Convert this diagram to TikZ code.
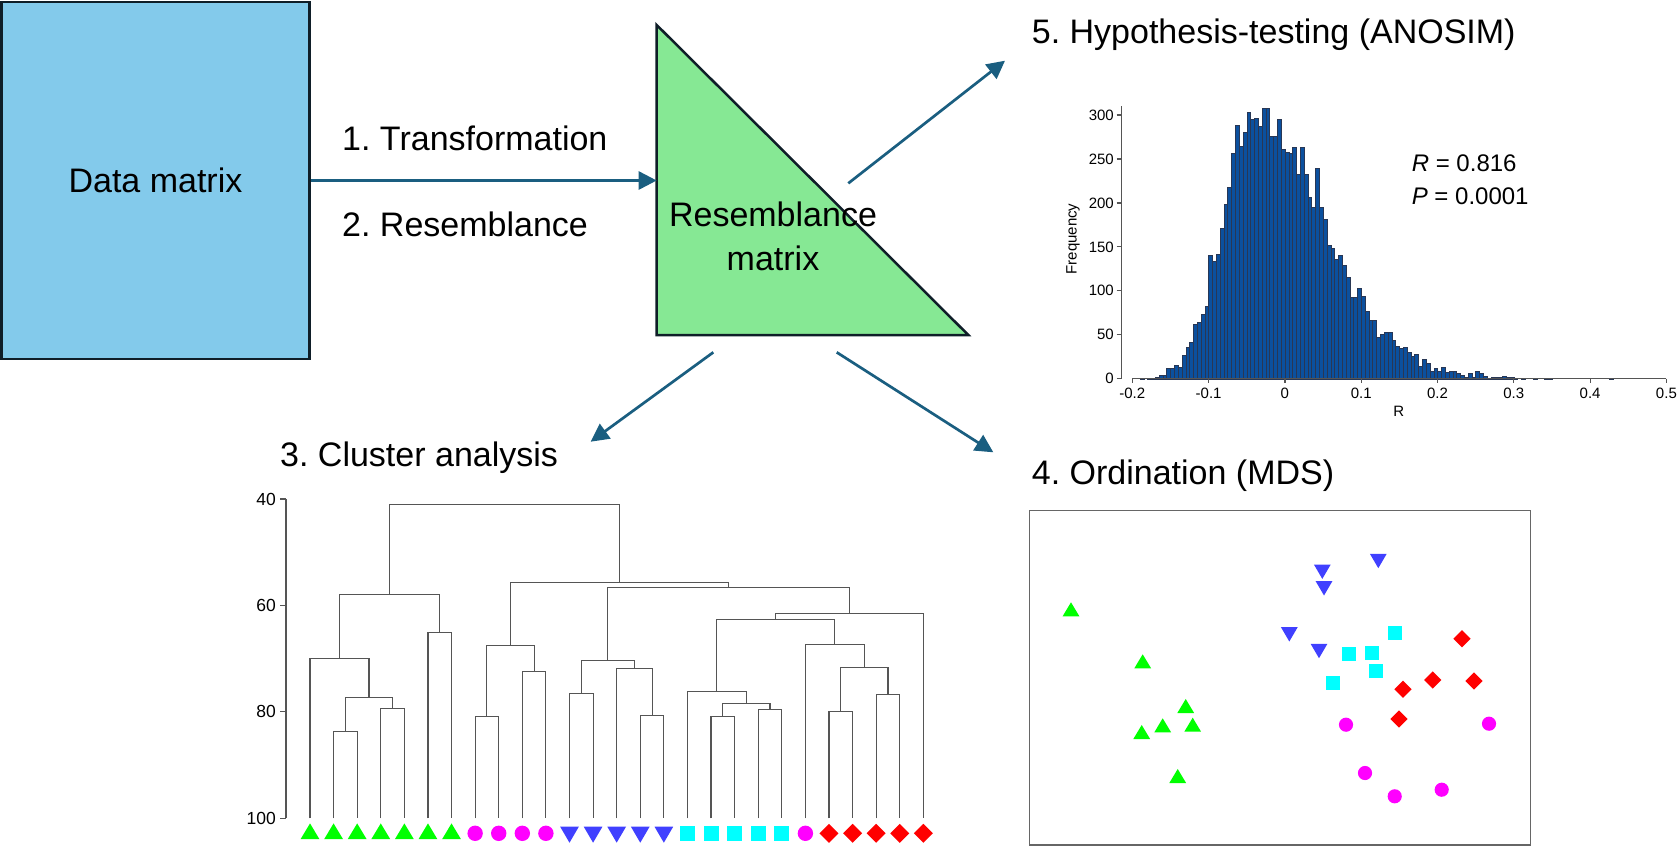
\documentclass[tikz,border=0pt]{standalone}
\usepackage{fontspec}
\setmainfont{Liberation Sans}
\usetikzlibrary{arrows.meta,calc}
\definecolor{arrowc}{RGB}{26,94,128}
\definecolor{datafill}{RGB}{131,202,235}
\definecolor{trifill}{RGB}{134,232,148}
\definecolor{edgec}{RGB}{15,30,40}
\definecolor{barfill}{RGB}{11,80,158}
\definecolor{baredge}{RGB}{40,55,85}
\definecolor{axc}{RGB}{85,85,85}
\definecolor{cgreen}{RGB}{0,255,0}
\definecolor{cblue}{RGB}{64,64,255}
\definecolor{cmag}{RGB}{255,0,255}
\definecolor{ccyan}{RGB}{0,255,255}
\definecolor{cred}{RGB}{255,0,0}
\newcommand\dmerge[4]{%
  \coordinate (hh) at (0,{dy(#3)});
  \draw[dend] (#1) -- (#1 |- hh) -- (#2 |- hh) -- (#2);
  \coordinate (#4) at ($(#1 |- hh)!0.5!(#2 |- hh)$);
}
\frenchspacing
\begin{document}
\frenchspacing
\begin{tikzpicture}[x=1pt,y=-1pt,
  declare function={lx(\i)=310+23.59*\i; dy(\v)=499+(\v-40)*5.322;},
  big/.style={font=\fontsize{34}{43.3}\selectfont, inner sep=0pt},
  axlab/.style={font=\fontsize{15}{18}\selectfont, inner sep=0pt},
  dlab/.style={font=\fontsize{17.5}{20}\selectfont, inner sep=0pt},
  statlab/.style={font=\fontsize{24}{29}\selectfont, inner sep=0pt, anchor=base west},
  datab/.style={draw=edgec, line width=2.5pt, fill=datafill, inner sep=0pt,
    font=\fontsize{34}{41}\selectfont},
  trib/.style={draw=edgec, line width=2.5pt, fill=trifill, line join=miter},
  flow/.style={draw=arrowc, line width=2.7pt, -{Triangle[length=18pt,width=18pt]}},
  dend/.style={draw=axc, line width=1.1pt},
  axline/.style={draw=axc, line width=1.2pt},
  bar/.style={fill=barfill, draw=baredge, line width=0.4pt},
  mdsbox/.style={draw=axc!90, line width=1.5pt},
  mkup/.pic={\fill[cgreen] (-9.35,7.8) -- (9.35,7.8) -- (0,-7.8) -- cycle;},
  mkdown/.pic={\fill[cblue] (-9.35,-8) -- (9.35,-8) -- (0,8) -- cycle;},
  mkcirc/.pic={\fill[cmag] (0,0) circle (7.7);},
  mksq/.pic={\fill[ccyan] (-7.5,-7.5) rectangle (7.5,7.5);},
  mkdia/.pic={\fill[cred] (0,-9.5) -- (9.5,0) -- (0,9.5) -- (-9.5,0) -- cycle;}
]
\useasboundingbox (0,0) rectangle (1680,847);

% ---------- data matrix and resemblance matrix ----------
\node[datab, minimum width=308pt, minimum height=357pt] (data) at (155.5,180.5) {Data matrix};
\coordinate (triTop) at (656.7,25);
\coordinate (triBL) at (656.7,335);
\coordinate (triBR) at (968.3,335);
\draw[trib] (triTop) -- (triBL) -- (triBR) -- cycle;
\coordinate (triL) at (656.7,180.5);
\node[big, anchor=base, align=center] (resm) at (773,270) {Resemblance\\matrix};

\draw[flow] (data.east) -- (triL);
\node[big, anchor=base west] (t1) at (342,150.7) {1. Transformation};
\node[big, anchor=base west] (t2) at (342,236) {2. Resemblance};

% arrows out
\coordinate (a5s) at (848.3,183.3); \coordinate (a5e) at (1005,60.7);
\coordinate (a3s) at (713.3,352.3); \coordinate (a3e) at (590.7,441.7);
\coordinate (a4s) at (836.7,352.3); \coordinate (a4e) at (993.3,452.3);
\draw[flow] (a5s) -- (a5e);
\draw[flow] (a3s) -- (a3e);
\draw[flow] (a4s) -- (a4e);

% titles
\node[big, anchor=base west] (t5) at (1031.7,43.3) {5. Hypothesis-testing (ANOSIM)};
\node[big, anchor=base west] (t3) at (280,466) {3. Cluster analysis};
\node[big, anchor=base west] (t4) at (1031.7,484.3) {4. Ordination (MDS)};

% ---------- histogram ----------
\foreach \h [count=\k from 0] in {0,0,1,0,1,1,2,4,4,12,
  12,15,13,27,36,42,62,64,73,83,
  141,134,142,171,198,218,257,288,265,280,
  303,295,296,287,308,308,276,276,295,261,
  258,256,263,233,263,233,207,195,239,195,
  181,152,148,136,141,129,115,93,93,103,
  94,77,67,67,47,51,53,53,44,37,
  35,36,30,26,28,14,22,18,9,12,
  9,13,7,9,8,6,4,2,6,2,
  8,6,3,0.5,1.5,1.5,1.5,3,2,1.5,
  1,0,1,0,0,1,0,0,1,1}{
  \ifdim \h pt>0pt
    \draw[bar] ({1132.3+3.815*\k},378.7) rectangle ++(3.815,{-0.879*\h});
  \fi
}
\draw[bar] ({1132.3+3.815*125},378.7) rectangle ++(3.815,-0.879);
\draw[axline] (1121.7,378.7) -- (1121.7,106);
\draw[axline] (1132.3,378.7) -- (1666.4,378.7);
\foreach \f in {0,50,...,300}{
  \draw[axline] (1116.7,{378.7-0.879*\f}) -- (1121.7,{378.7-0.879*\f});
  \node[axlab, anchor=east] at (1114,{378.7-0.879*\f}) {\f};
}
\foreach \r/\t in {0/-0.2,1/-0.1,2/0,3/0.1,4/0.2,5/0.3,6/0.4,7/0.5}{
  \draw[axline] ({1132.3+76.3*\r},378.7) -- ({1132.3+76.3*\r},382.7);
  \node[axlab, anchor=base] at ({1132.3+76.3*\r},398) {\t};
}
\node[axlab, rotate=90] (freq) at (1073,239) {Frequency};
\node[axlab, anchor=base] (rlab) at (1398.7,416.7) {R};
\node[statlab] (rstat) at (1411.6,171) {\textit{R} = 0.816};
\node[statlab] (pstat) at (1411.6,204) {\textit{P} = 0.0001};

% ---------- dendrogram ----------
\draw[axline] (286,499) -- (286,818.3);
\foreach \v in {40,60,80,100}{
  \draw[axline] (280,{dy(\v)}) -- (286,{dy(\v)});
  \node[dlab, anchor=east] at (276,{dy(\v)}) {\v};
}
\foreach \i in {0,...,26}{ \coordinate (L\i) at ({lx(\i)},818.3); }
\dmerge{L1}{L2}{83.7}{g12}
\dmerge{L3}{L4}{79.4}{g34}
\dmerge{g12}{g34}{77.3}{g14}
\dmerge{L0}{g14}{69.9}{g04}
\dmerge{L5}{L6}{65.0}{g56}
\dmerge{g04}{g56}{57.9}{gG}
\dmerge{L7}{L8}{80.8}{m78}
\dmerge{L9}{L10}{72.4}{m910}
\dmerge{m78}{m910}{67.5}{mM}
\dmerge{L11}{L12}{76.6}{b1112}
\dmerge{L14}{L15}{80.6}{b1415}
\dmerge{L13}{b1415}{71.9}{b1315}
\dmerge{b1112}{b1315}{70.4}{bB}
\dmerge{L17}{L18}{80.8}{c1718}
\dmerge{L19}{L20}{79.5}{c1920}
\dmerge{c1718}{c1920}{78.4}{cF}
\dmerge{L16}{cF}{76.1}{cE}
\dmerge{L22}{L23}{80.0}{r2223}
\dmerge{L24}{L25}{76.8}{rI}
\dmerge{r2223}{rI}{71.7}{rH}
\dmerge{L21}{rH}{67.3}{rG}
\dmerge{cE}{rG}{62.7}{nD}
\dmerge{nD}{L26}{61.5}{nC}
\dmerge{bB}{nC}{56.65}{nB}
\dmerge{mM}{nB}{55.7}{nA}
\dmerge{gG}{nA}{41.0}{ntop}
\foreach \i in {0,...,6}{ \pic at ({lx(\i)},831.2) {mkup}; }
\foreach \i in {7,...,10}{ \pic at ({lx(\i)},833.3) {mkcirc}; }
\foreach \i in {11,...,15}{ \pic at ({lx(\i)},834.7) {mkdown}; }
\foreach \i in {16,...,20}{ \pic at ({lx(\i)},833.3) {mksq}; }
\pic at ({lx(21)},833.3) {mkcirc};
\foreach \i in {22,...,26}{ \pic at ({lx(\i)},833.3) {mkdia}; }

% ---------- MDS ----------
\draw[mdsbox] (1029.3,510.7) rectangle (1530.7,845);
\foreach \p in {(1071,609.3),(1142.7,661.3),(1185.7,706),(1162.7,725.3),(1192.7,724.7),(1141.7,732),(1177.7,776)}
  { \pic[scale=0.9] at \p {mkup}; }
\foreach \p in {(1322.3,571.7),(1378.3,561),(1324,588.3),(1289.3,634.3),(1319,651)}
  { \pic[scale=0.9] at \p {mkdown}; }
\foreach \p in {(1394.7,633.3),(1349,654),(1372,653.3),(1376,671.3),(1333.3,683)}
  { \pic[scale=0.93] at \p {mksq}; }
\foreach \p in {(1462,638.7),(1432.7,680),(1474,681),(1403,689.3),(1399,719)}
  { \pic[scale=0.91] at \p {mkdia}; }
\foreach \p in {(1346,724.7),(1489,723.7),(1365,773),(1394.7,796.3),(1441.7,789.7)}
  { \pic[scale=0.92] at \p {mkcirc}; }
\end{tikzpicture}
\end{document}
